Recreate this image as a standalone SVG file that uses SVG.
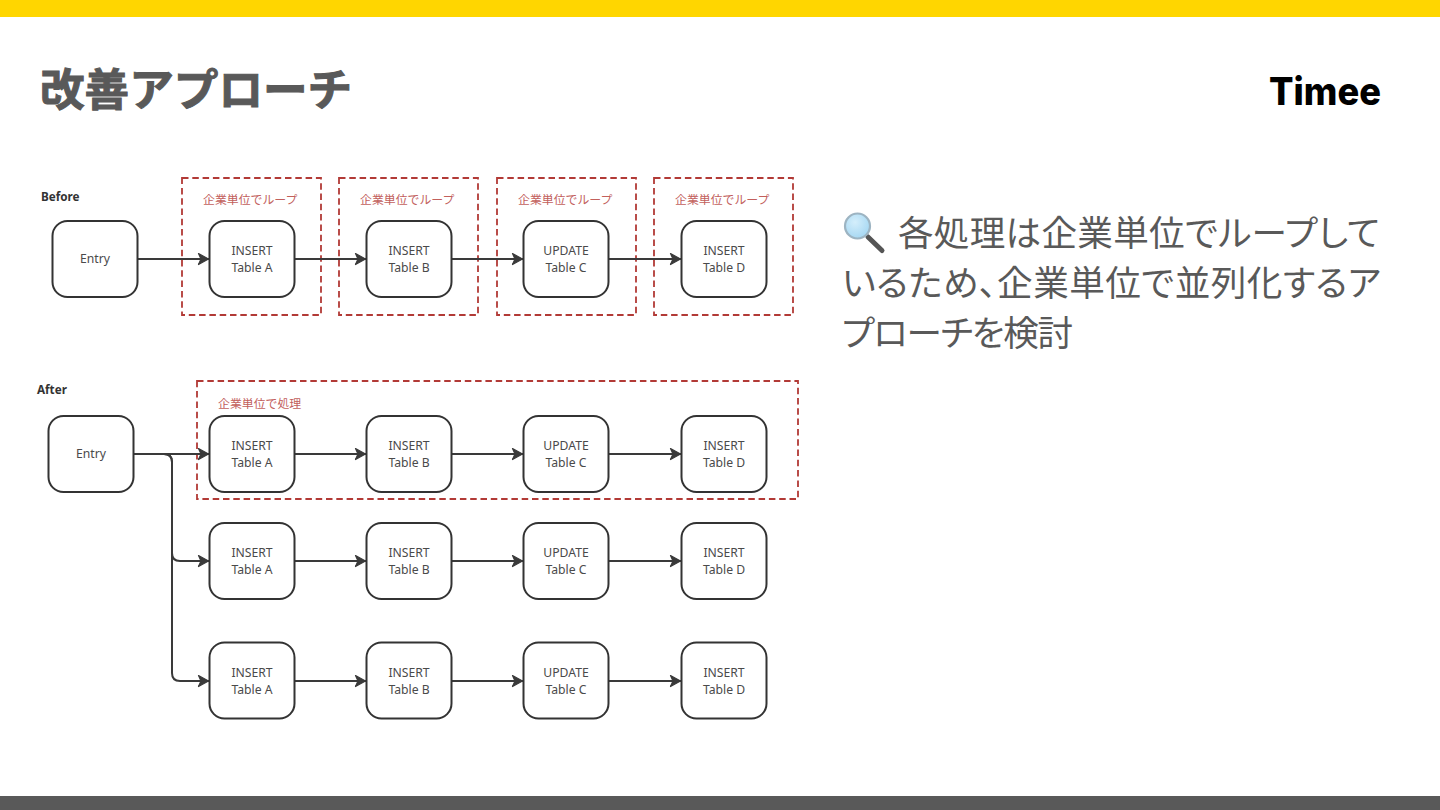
<svg xmlns="http://www.w3.org/2000/svg" width="1440" height="810" viewBox="0 0 1440 810">
<style>
.n{fill:#fff;stroke:#333;stroke-width:2}
.t{font-family:"Noto Sans","Noto Sans CJK JP",sans-serif;font-size:12.2px;fill:#4a4a4a;text-anchor:middle}
.h{font-family:"Noto Sans","Noto Sans CJK JP",sans-serif;font-size:11.7px;font-weight:700;fill:#333}
.r{font-family:"Noto Sans CJK JP",sans-serif;font-size:11.9px;fill:#c2605c}
.d{fill:none;stroke:#b23a36;stroke-width:1.8;stroke-dasharray:6.5 3.8}
.c{fill:none;stroke:#3a3a3a;stroke-width:2;marker-end:url(#a)}
.b{font-family:"Noto Sans CJK JP",sans-serif;font-size:35.6px;fill:#595959;font-feature-settings:"palt"}
</style>
<defs>
<marker id="a" markerUnits="userSpaceOnUse" markerWidth="16" markerHeight="16" refX="13" refY="8" orient="auto"><path d="M2.500 2.500 L12.500 8 L2.500 13.500 L5 8 Z" fill="#3a3a3a" stroke="#3a3a3a" stroke-width="1.200" stroke-linejoin="round"/></marker>
<radialGradient id="lens" cx="0.4" cy="0.35" r="0.7"><stop offset="0" stop-color="#d4eefb"/><stop offset="1" stop-color="#a3d6f2"/></radialGradient>
<g id="ia"><rect class="n" x="0.500" width="85" height="76" rx="15"/><text class="t" x="43" y="34">INSERT</text><text class="t" x="43" y="51">Table A</text></g>
<g id="ib"><rect class="n" x="0.500" width="85" height="76" rx="15"/><text class="t" x="43" y="34">INSERT</text><text class="t" x="43" y="51">Table B</text></g>
<g id="uc"><rect class="n" x="0.500" width="85" height="76" rx="15"/><text class="t" x="43" y="34">UPDATE</text><text class="t" x="43" y="51">Table C</text></g>
<g id="id"><rect class="n" x="0.500" width="85" height="76" rx="15"/><text class="t" x="43" y="34">INSERT</text><text class="t" x="43" y="51">Table D</text></g>
</defs>
<rect width="1440" height="810" fill="#fff"/>
<rect id="top-bar" width="1440" height="17" fill="#ffd600"/>
<rect id="bottom-bar" y="796" width="1440" height="14" fill="#595959"/>
<text id="title" x="40" y="106" font-family="'Noto Sans CJK JP',sans-serif" font-size="44.600" font-weight="700" fill="#595959" stroke="#595959" stroke-width="1">改善アプローチ</text>
<text id="logo" x="1269" y="105" font-family="Inter,sans-serif" font-size="38" font-weight="800" fill="#000" textLength="112" lengthAdjust="spacingAndGlyphs">Timee</text>
<g id="magnifier">
<line x1="868" y1="237" x2="882" y2="250.500" stroke="#555" stroke-width="5" stroke-linecap="round"/>
<circle cx="857.500" cy="226" r="12.500" fill="url(#lens)" stroke="#9db4c2" stroke-width="2.200"/>
</g>
<text id="body" class="b"><tspan x="898" y="246" textLength="482">各処理は企業単位でループして</tspan><tspan x="842" y="296" textLength="539">いるため、企業単位で並列化するア</tspan><tspan x="842" y="346" textLength="231">プローチを検討</tspan></text>
<text id="before-label" class="h" x="41" y="201">Before</text>
<text id="after-label" class="h" x="37" y="394">After</text>
<g id="regions">
<rect class="d" x="182" y="178" width="139" height="137"/><text class="r" x="203" y="204">企業単位でループ</text>
<rect class="d" x="339" y="178" width="139" height="137"/><text class="r" x="360" y="204">企業単位でループ</text>
<rect class="d" x="497" y="178" width="139" height="137"/><text class="r" x="518" y="204">企業単位でループ</text>
<rect class="d" x="654" y="178" width="139" height="137"/><text class="r" x="675" y="204">企業単位でループ</text>
<rect class="d" x="197" y="381" width="601" height="118"/><text class="r" x="218" y="408">企業単位で処理</text>
</g>
<g id="connectors">
<path class="c" d="M138 259H209"/><path class="c" d="M295 259H366"/><path class="c" d="M452 259H523"/><path class="c" d="M609 259H681"/>
<path class="c" d="M134 454H209"/><path class="c" d="M295 454H366"/><path class="c" d="M452 454H523"/><path class="c" d="M609 454H681"/>
<path class="c" d="M134 454H164Q172 454 172 462V553Q172 561 180 561H209"/><path class="c" d="M295 561H366"/><path class="c" d="M452 561H523"/><path class="c" d="M609 561H681"/>
<path class="c" d="M134 454H164Q172 454 172 462V673Q172 681 180 681H209"/><path class="c" d="M295 681H366"/><path class="c" d="M452 681H523"/><path class="c" d="M609 681H681"/>
</g>
<g id="before-entry"><rect class="n" x="52.500" y="221" width="85" height="76" rx="15"/><text class="t" x="95" y="263">Entry</text></g>
<use id="b1" href="#ia" x="209" y="221"/><use id="b2" href="#ib" x="366" y="221"/><use id="b3" href="#uc" x="523" y="221"/><use id="b4" href="#id" x="681" y="221"/>
<g id="after-entry"><rect class="n" x="48.500" y="416" width="85" height="76" rx="15"/><text class="t" x="91" y="458">Entry</text></g>
<use id="r1a" href="#ia" x="209" y="416"/><use id="r1b" href="#ib" x="366" y="416"/><use id="r1c" href="#uc" x="523" y="416"/><use id="r1d" href="#id" x="681" y="416"/>
<use id="r2a" href="#ia" x="209" y="523"/><use id="r2b" href="#ib" x="366" y="523"/><use id="r2c" href="#uc" x="523" y="523"/><use id="r2d" href="#id" x="681" y="523"/>
<use id="r3a" href="#ia" x="209" y="642.500"/><use id="r3b" href="#ib" x="366" y="642.500"/><use id="r3c" href="#uc" x="523" y="642.500"/><use id="r3d" href="#id" x="681" y="642.500"/>
</svg>
